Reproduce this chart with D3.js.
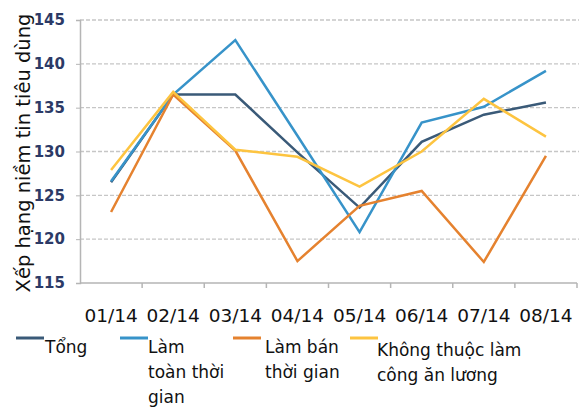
<!DOCTYPE html>
<html>
<head>
<meta charset="utf-8">
<script src="https://cdn.jsdelivr.net/npm/d3@7"></script>
<style>
  body { margin: 0; background: #fff; }
  text { font-family: "DejaVu Sans", Verdana, sans-serif; }
</style>
</head>
<body>
<div id="chart"></div>
<script>
// months (x categories)
var months = ["01/14", "02/14", "03/14", "04/14", "05/14", "06/14", "07/14", "08/14"];
var yTicks = [115, 120, 125, 130, 135, 140, 145];

// series values
var tong = [126.5, 136.5, 136.5, 129.9, 123.6, 131.1, 134.2, 135.6];
var toanThoiGian = [126.6, 136.5, 142.7, 131.8, 120.8, 133.3, 135.1, 139.2];
var banThoiGian = [123.1, 136.5, 130.1, 117.5, 123.8, 125.5, 117.4, 129.5];
var khongLuong = [127.9, 136.8, 130.2, 129.4, 126.0, 130.0, 136.0, 131.7];

var seriesNames = ["Tổng", "Làm toàn thời gian", "Làm bán thời gian", "Không thuộc làm công ăn lương"];
var seriesColors = ["#3a5a78", "#3793c9", "#e5822f", "#fdc440"];

var series = [tong, toanThoiGian, banThoiGian, khongLuong].map(function(vals, i) {
  return { name: seriesNames[i], color: seriesColors[i], values: vals };
});

var svgWidth = 586, svgHeight = 412;
var margin = { top: 20, left: 80, right: 7, bottom: 129 };
var width = svgWidth - margin.left - margin.right;
var height = svgHeight - margin.top - margin.bottom;

var svg = d3.select("#chart").append("svg")
  .attr("width", svgWidth)
  .attr("height", svgHeight);

var chartGroup = svg.append("g")
  .attr("transform", `translate(${margin.left}, ${margin.top})`);

// scales
var xScale = d3.scaleBand().domain(months).range([0, width - 2]);
var yScale = d3.scaleLinear().domain([115, 145]).range([height, 0]);

// gridlines
chartGroup.append("g").selectAll("line")
  .data(yTicks.slice(1))
  .enter()
  .append("line")
  .attr("x1", 0)
  .attr("x2", width)
  .attr("y1", d => yScale(d))
  .attr("y2", d => yScale(d))
  .attr("stroke", "#c6c6c6")
  .attr("stroke-width", 1.3)
  .attr("stroke-dasharray", "4,2");

// y axis
var yAxis = d3.axisLeft(yScale).tickValues(yTicks).tickSize(4).tickPadding(11);
var yG = chartGroup.append("g").call(yAxis);
yG.select(".domain").attr("stroke", "#b5b5b5").attr("stroke-width", 1.5);
yG.selectAll(".tick line").attr("stroke", "#b5b5b5");
yG.selectAll("text")
  .attr("font-size", "15px")
  .attr("font-weight", "bold")
  .attr("fill", "#2c3a66");

// x axis: ticks on band edges
var xG = chartGroup.append("g").attr("transform", `translate(0, ${height})`);
xG.append("line")
  .attr("x1", 0).attr("x2", width - 2)
  .attr("stroke", "#b5b5b5").attr("stroke-width", 1.5);
xG.selectAll("line.edge")
  .data(months)
  .enter()
  .append("line")
  .attr("class", "edge")
  .attr("x1", d => xScale(d) + xScale.bandwidth())
  .attr("x2", d => xScale(d) + xScale.bandwidth())
  .attr("y1", 0).attr("y2", 5)
  .attr("stroke", "#b5b5b5").attr("stroke-width", 1.5);
xG.selectAll("text")
  .data(months)
  .enter()
  .append("text")
  .attr("x", d => xScale(d) + xScale.bandwidth() / 2)
  .attr("y", 39)
  .attr("text-anchor", "middle")
  .attr("font-size", "18.5px")
  .attr("fill", "#111")
  .text(d => d);

// y label
chartGroup.append("text")
  .attr("transform", "rotate(-90)")
  .attr("x", -133)
  .attr("y", -50)
  .attr("text-anchor", "middle")
  .attr("font-size", "19.5px")
  .attr("fill", "#111")
  .text("Xếp hạng niềm tin tiêu dùng");

// lines
var line = d3.line()
  .x((d, i) => xScale(months[i]) + xScale.bandwidth() / 2)
  .y(d => yScale(d));

chartGroup.append("g").selectAll("path")
  .data(series)
  .enter()
  .append("path")
  .attr("d", d => line(d.values))
  .attr("fill", "none")
  .attr("stroke", d => d.color)
  .attr("stroke-width", 2.5)
  .attr("stroke-linejoin", "miter");

// legend
var legendItems = [
  { x: 16, lines: ["Tổng"] },
  { x: 120, lines: ["Làm", "toàn thời", "gian"] },
  { x: 233, lines: ["Làm bán", "thời gian"] },
  { x: 350, lines: ["Không thuộc làm", "công ăn lương"] }
];
var legend = svg.append("g");
legendItems.forEach(function(item, i) {
  var g = legend.append("g");
  g.append("line")
    .attr("x1", item.x).attr("x2", item.x + 28)
    .attr("y1", 338).attr("y2", 338)
    .attr("stroke", series[i].color)
    .attr("stroke-width", 3);
  var textX = i === 0 ? item.x + 29 : (i === 3 ? item.x + 27 : item.x + 28 + (i === 2 ? 4 : 0));
  var textY = i === 3 ? 356 : 353;
  g.selectAll("text")
    .data(item.lines)
    .enter()
    .append("text")
    .attr("x", textX)
    .attr("y", (d, j) => textY + j * 25)
    .attr("font-size", "17px")
    .attr("fill", "#111")
    .text(d => d);
});
</script>
</body>
</html>
